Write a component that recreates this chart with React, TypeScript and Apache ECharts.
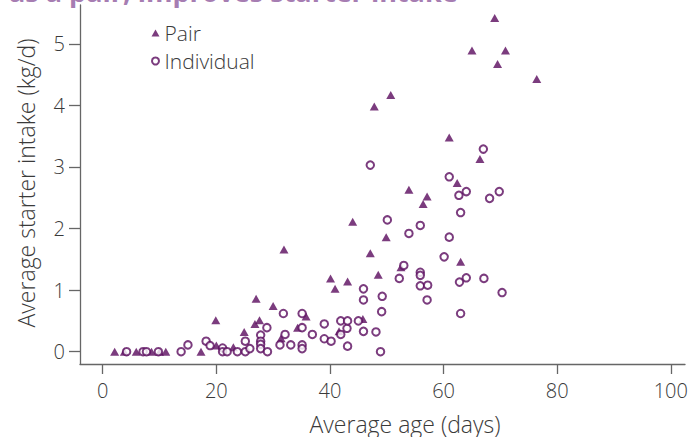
import React, { useEffect, useRef } from "react";
import * as echarts from "echarts";

const seriesNames = ["Pair", "Individual"];

// [age (days), starter intake (kg/d)]
const pairData: number[][] = [
  [2.1, 0], [3.8, 0], [5.9, 0], [8.6, 0], [10.0, 0], [11.1, 0], [17.3, 0],
  [19.9, 0.51], [20.0, 0.1], [23.0, 0.07], [24.9, 0.32], [26.8, 0.45], [27.0, 0.86],
  [27.6, 0.51], [30.0, 0.74], [31.4, 0.22], [31.9, 1.66], [34.3, 0.39], [35.8, 0.57],
  [40.1, 1.19], [40.9, 1.02], [41.6, 0.33], [43.1, 1.14], [44.0, 2.11], [45.8, 0.53],
  [47.1, 1.6], [47.8, 3.98], [48.5, 1.25], [49.9, 1.86], [50.7, 4.17], [52.5, 1.37],
  [53.9, 2.63], [56.4, 2.4], [57.1, 2.52], [61.0, 3.48], [62.4, 2.74], [63.0, 1.46],
  [65.0, 4.89], [66.4, 3.13], [69.0, 5.42], [69.5, 4.67], [70.9, 4.89], [76.4, 4.43],
];

const individualData: number[][] = [
  [4.2, 0], [7.1, 0], [7.7, 0], [9.8, 0], [13.8, 0], [15.0, 0.11], [18.2, 0.17],
  [18.9, 0.1], [21.1, 0.06], [21.1, 0], [21.9, 0], [23.7, 0], [25.1, 0], [25.1, 0.17],
  [25.9, 0.05], [27.8, 0.27], [27.8, 0.17], [27.8, 0.12], [27.8, 0.05], [28.9, 0.39],
  [29.0, 0], [31.2, 0.11], [31.8, 0.62], [32.1, 0.28], [33.1, 0.11], [35.1, 0.62],
  [35.1, 0.39], [35.1, 0.11], [35.1, 0.05], [36.9, 0.28], [39.0, 0.45], [39.0, 0.21],
  [40.2, 0.17], [41.9, 0.5], [41.9, 0.28], [43.0, 0.38], [43.1, 0.5], [43.1, 0.09],
  [45.0, 0.5], [45.9, 1.02], [45.9, 0.84], [45.9, 0.33], [47.1, 3.03], [48.1, 0.32],
  [48.9, 0], [49.1, 0.65], [49.2, 0.9], [50.1, 2.14], [52.2, 1.19], [53.0, 1.4],
  [53.9, 1.92], [55.9, 2.05], [55.9, 1.29], [55.9, 1.24], [55.9, 1.07], [57.1, 0.84],
  [57.2, 1.08], [60.1, 1.54], [61.0, 2.84], [61.0, 1.86], [62.7, 2.54], [62.8, 1.13],
  [63.0, 2.26], [63.0, 0.62], [64.0, 2.6], [64.0, 1.2], [67.0, 3.29], [67.1, 1.19],
  [68.1, 2.49], [69.8, 2.6], [70.3, 0.96],
];

const xTicks = [0, 20, 40, 60, 80, 100];
const yTicks = [0, 1, 2, 3, 4, 5];

const titleText = "as a pair, improves starter intake";
const xTitle = "Average age (days)";
const yTitle = "Average starter intake (kg/d)";

const FONT = "'Open Sans', Lato, sans-serif";
const MARK = "#5a0b5e";
const AXIS = "#666666";
const LABEL = "#3a3a3a";

export default function App() {
  const ref = useRef<HTMLDivElement>(null);
  useEffect(() => {
    if (!ref.current) return;
    const chart = echarts.init(ref.current, undefined, { renderer: "svg" });
    const axisCommon = {
      type: "value" as const,
      splitLine: { show: false },
      axisLine: { show: true, onZero: false, lineStyle: { color: AXIS, width: 1.3 } },
    };
    chart.setOption({
      animation: false,
      backgroundColor: "#ffffff",
      grid: { left: 80, top: 5, width: 605, height: 359, outerBoundsMode: "none", containLabel: false },
      legend: {
        data: seriesNames,
        orient: "vertical",
        left: 151,
        top: 21,
        padding: 0,
        itemWidth: 8,
        itemHeight: 7,
        itemGap: 4,
        textStyle: { fontSize: 21, fontWeight: 300, color: LABEL, fontFamily: FONT, lineHeight: 24 },
      },
      xAxis: {
        ...axisCommon,
        min: -4,
        max: 102.5,
        axisTick: { show: true, length: 10, customValues: xTicks, lineStyle: { color: AXIS, width: 1.3 } },
        axisLabel: { customValues: xTicks, margin: 16, fontSize: 20, fontWeight: 300, color: LABEL, fontFamily: FONT },
      },
      yAxis: {
        ...axisCommon,
        min: -0.2,
        max: 5.63,
        axisTick: { show: true, length: 11, customValues: yTicks, lineStyle: { color: AXIS, width: 1.3 } },
        axisLabel: { customValues: yTicks, margin: 15, fontSize: 20, fontWeight: 300, color: LABEL, fontFamily: FONT },
      },
      graphic: [
        {
          type: "text",
          x: 9,
          y: 4.5,
          style: {
            text: titleText,
            fontSize: 27,
            fontWeight: "bold",
            fontFamily: FONT,
            fill: "#a67db2",
            align: "left",
            verticalAlign: "bottom",
          },
        },
        {
          type: "text",
          x: 405,
          y: 424,
          style: {
            text: xTitle,
            fontSize: 23,
            fontWeight: 300,
            fontFamily: FONT,
            fill: LABEL,
            align: "center",
            verticalAlign: "middle",
          },
        },
        {
          type: "text",
          x: 26,
          y: 183,
          rotation: Math.PI / 2,
          style: {
            text: yTitle,
            fontSize: 23,
            fontWeight: 300,
            fontFamily: FONT,
            fill: LABEL,
            align: "center",
            verticalAlign: "middle",
          },
        },
      ],
      series: [
        {
          name: seriesNames[0],
          type: "scatter",
          symbol: "triangle",
          symbolSize: [9, 8],
          itemStyle: { color: MARK },
          data: pairData,
        },
        {
          name: seriesNames[1],
          type: "scatter",
          symbol: "emptyCircle",
          symbolSize: 7.5,
          itemStyle: { color: MARK, borderWidth: 1.2 },
          data: individualData,
        },
      ],
    });
    return () => chart.dispose();
  }, []);
  return (
    <div
      ref={ref}
      style={{ position: "fixed", left: 0, top: 0, width: 688, height: 437 }}
    />
  );
}
